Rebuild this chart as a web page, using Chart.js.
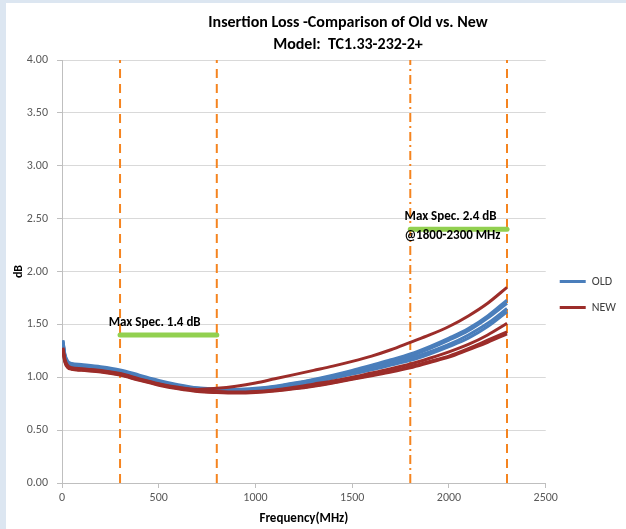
<!DOCTYPE html>
<html><head><meta charset="utf-8">
<script src="https://cdn.jsdelivr.net/npm/chart.js@4.4.0/dist/chart.umd.min.js"></script>
<style>
html,body{margin:0;padding:0;background:#DCE6F1;overflow:hidden;}
#wrap{position:absolute;left:6px;top:3px;width:620px;height:526px;background:#fff;}
canvas{display:block;}
</style></head><body>
<div id="wrap"><canvas id="c" width="620" height="526"></canvas></div>
<script>
const titleLines = ['Insertion Loss -Comparison of Old vs. New', 'Model:  TC1.33-232-2+'];
const freqMHz = [5,15,30,50,100,200,300,400,500,600,700,800,900,1000,1100,1200,1300,1400,1500,1600,1700,1800,1900,2000,2100,2200,2300];

const old1 = [1.35,1.22,1.15,1.13,1.12,1.10,1.07,1.02,0.97,0.93,0.90,0.89,0.885,0.895,0.915,0.945,0.98,1.02,1.065,1.115,1.165,1.22,1.29,1.37,1.46,1.58,1.73];
const old2 = [1.34,1.21,1.14,1.12,1.11,1.09,1.06,1.01,0.96,0.92,0.895,0.885,0.88,0.89,0.91,0.94,0.975,1.01,1.055,1.10,1.15,1.20,1.27,1.35,1.44,1.56,1.70];
const old3 = [1.33,1.20,1.13,1.115,1.105,1.085,1.055,1.005,0.955,0.915,0.89,0.88,0.875,0.885,0.90,0.93,0.96,1.00,1.04,1.085,1.13,1.18,1.24,1.31,1.40,1.51,1.65];
const old4 = [1.32,1.19,1.125,1.11,1.10,1.08,1.05,1.00,0.95,0.91,0.885,0.875,0.87,0.88,0.895,0.92,0.95,0.99,1.03,1.07,1.115,1.16,1.22,1.29,1.37,1.48,1.62];

const new1 = [1.28,1.17,1.11,1.09,1.08,1.065,1.035,0.985,0.94,0.905,0.885,0.895,0.915,0.945,0.985,1.025,1.065,1.105,1.15,1.20,1.26,1.33,1.40,1.48,1.58,1.70,1.85];
const new2 = [1.27,1.16,1.10,1.08,1.075,1.06,1.03,0.98,0.935,0.90,0.875,0.865,0.86,0.865,0.88,0.905,0.935,0.965,1.00,1.04,1.08,1.125,1.18,1.24,1.31,1.40,1.51];
const new3 = [1.26,1.15,1.10,1.08,1.07,1.055,1.025,0.975,0.93,0.895,0.87,0.86,0.855,0.86,0.875,0.895,0.92,0.95,0.985,1.02,1.06,1.10,1.15,1.20,1.27,1.35,1.43];
const new4 = [1.25,1.14,1.09,1.075,1.065,1.05,1.02,0.97,0.925,0.89,0.865,0.855,0.85,0.855,0.87,0.89,0.915,0.945,0.98,1.015,1.05,1.09,1.14,1.19,1.26,1.33,1.41];

const markerFreqs = [300, 800, 1800, 2300];
const markerDashes = [[9,6],[9,6],[9,4,2,4],[9,6]];
const specStart = [300, 1800];
const specEnd = [800, 2300];
const specLevel = [1.4, 2.4];
const specText1 = ['Max Spec. 1.4 dB', 'Max Spec. 2.4 dB'];
const specText2 = ['', '@1800-2300 MHz'];
const yTicks = [0, 0.5, 1, 1.5, 2, 2.5, 3, 3.5, 4];

const BLUE = '#4A7EBB', RED = '#9C2D2A', ORANGE = '#F5841F', GREEN = '#92D050';
const FONT = 'Carlito, Lato, "Liberation Sans", sans-serif';

function pts(arr){ return freqMHz.map((f,i)=>({x:f,y:arr[i]})); }
function curve(label, arr, color, legend, order){
  return {label, data:pts(arr), borderColor:color, backgroundColor:color, borderWidth:3,
    pointRadius:0, tension:0.4, cubicInterpolationMode:'monotone', fill:false, order, showInLegend:legend};
}
const datasets = [
  curve('OLD', old1, BLUE, true, 4),
  curve('NEW', new1, RED, true, 2),
  curve('OLD 2', old2, BLUE, false, 4),
  curve('OLD 3', old3, BLUE, false, 4),
  curve('OLD 4', old4, BLUE, false, 4),
  curve('NEW 2', new2, RED, false, 3),
  curve('NEW 3', new3, RED, false, 3),
  curve('NEW 4', new4, RED, false, 3),
];
markerFreqs.forEach((f,i)=>datasets.push({label:'marker'+i, data:[{x:f,y:0},{x:f,y:4}],
  borderColor:ORANGE, borderWidth:2, borderDash:markerDashes[i], pointRadius:0, order:9, showInLegend:false}));
specLevel.forEach((v,i)=>datasets.push({label:'spec'+i, data:[{x:specStart[i],y:v},{x:specEnd[i],y:v}],
  borderColor:GREEN, borderWidth:5, borderCapStyle:'round', pointRadius:0, order:1, showInLegend:false}));

const overlay = {
  id:'overlay',
  afterDatasetsDraw(chart){
    const {ctx, scales:{x,y}} = chart;
    ctx.save();
    ctx.fillStyle = '#000';
    ctx.textAlign = 'center';
    ctx.textBaseline = 'middle';
    ctx.font = 'bold 16px ' + FONT;
    ctx.fillText(titleLines[0], 342, 20);
    ctx.fillText(titleLines[1], 342, 42);
    ctx.font = 'bold 13px ' + FONT;
    ctx.fillText(specText1[0], x.getPixelForValue(479), y.getPixelForValue(specLevel[0]) - 12);
    ctx.fillText(specText1[1], x.getPixelForValue(2008), y.getPixelForValue(specLevel[1]) - 12);
    ctx.fillText(specText2[1], x.getPixelForValue(2018), y.getPixelForValue(specLevel[1]) + 7);
    ctx.restore();
  }
};

new Chart(document.getElementById('c'), {
  type:'line',
  data:{datasets},
  plugins:[overlay],
  options:{
    responsive:false, animation:false,
    layout:{padding:{top:57, left:0, bottom:0, right:0}},
    plugins:{
      title:{display:false},
      tooltip:{enabled:false},
      legend:{position:'right', align:'center', maxWidth:81,
        labels:{usePointStyle:true, pointStyle:'line', pointStyleWidth:26, padding:14,
          color:'#404040', font:{family:FONT, size:12},
          sort:(a,b)=>a.datasetIndex-b.datasetIndex,
          filter:(item, data)=>data.datasets[item.datasetIndex].showInLegend}}
    },
    scales:{
      x:{type:'linear', min:0, max:2500,
        ticks:{stepSize:500, color:'#595959', font:{family:FONT, size:12}, padding:3, callback:v=>String(v)},
        grid:{display:true, drawOnChartArea:false, tickLength:5, tickColor:'#BFBFBF'},
        border:{display:true, color:'#BFBFBF'},
        title:{display:true, text:'Frequency(MHz)', color:'#000', font:{family:FONT, size:13, weight:'bold'}, padding:{top:0,bottom:2}},
        afterFit:s=>{s.height = 46;}
      },
      y:{type:'linear', min:0, max:4,
        afterBuildTicks:s=>{s.ticks = yTicks.map(v=>({value:v}));},
        ticks:{color:'#595959', font:{family:FONT, size:12}, padding:9, callback:v=>Number(v).toFixed(2)},
        grid:{color:'#D9D9D9', tickLength:5, tickColor:'#BFBFBF'},
        border:{display:true, color:'#BFBFBF'},
        title:{display:true, text:'dB', color:'#000', font:{family:FONT, size:12, weight:'bold'}, padding:{top:6,bottom:0}},
        afterFit:s=>{s.width = 56;}
      }
    }
  }
});
</script>
</body></html>
